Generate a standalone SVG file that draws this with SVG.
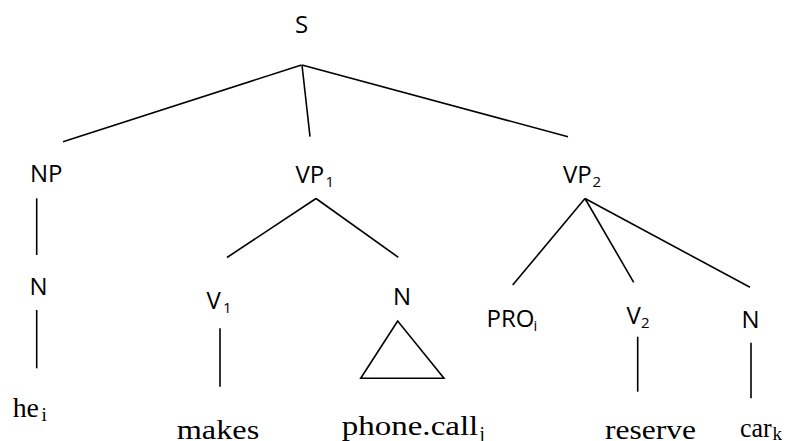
<svg xmlns="http://www.w3.org/2000/svg" width="792" height="441" viewBox="0 0 792 441">
  <style>
    .cat { font-family: "Open Sans", "Liberation Sans", sans-serif; font-size: 24px; fill: #000; }
    .cat-sub { font-family: "Open Sans", "Liberation Sans", sans-serif; font-size: 15px; fill: #000; }
    .word { font-family: "Liberation Serif", "Times New Roman", serif; font-size: 28px; fill: #000; }
    .word-sub { font-family: "Liberation Serif", "Times New Roman", serif; font-size: 19px; fill: #000; }
    .edge { stroke: #000; stroke-width: 1.6; fill: none; }
  </style>
  <rect width="792" height="441" fill="#fff"/>

  <!-- tree branches -->
  <g id="connectors">
    <line class="edge" x1="301.5" y1="65" x2="63" y2="141.7"/>
    <line class="edge" x1="302" y1="65" x2="310" y2="136.7"/>
    <line class="edge" x1="302" y1="65" x2="568" y2="136.7"/>
    <line class="edge" x1="36.7" y1="198.3" x2="36.7" y2="255"/>
    <line class="edge" x1="36.7" y1="310" x2="36.7" y2="368.3"/>
    <line class="edge" x1="316" y1="198.5" x2="227" y2="257.5"/>
    <line class="edge" x1="316" y1="198.5" x2="398.3" y2="257.3"/>
    <line class="edge" x1="220" y1="328.3" x2="220" y2="386.7"/>
    <polygon class="edge" points="397.7,321 360.7,378.3 444,378.3"/>
    <line class="edge" x1="585" y1="198.5" x2="512.7" y2="285"/>
    <line class="edge" x1="585" y1="198.5" x2="633.7" y2="282.3"/>
    <line class="edge" x1="585" y1="198.5" x2="750" y2="287.3"/>
    <line class="edge" x1="637.7" y1="336.7" x2="637.7" y2="391.7"/>
    <line class="edge" x1="751" y1="342.7" x2="751" y2="398.3"/>
  </g>

  <!-- category labels -->
  <g id="node-S"><text class="cat" x="295" y="33">S</text></g>
  <g id="node-NP"><text class="cat" x="30" y="182">NP</text></g>
  <g id="node-VP1">
    <text class="cat" x="295.5" y="183">VP</text>
    <text class="cat-sub" x="325.5" y="187">1</text>
  </g>
  <g id="node-VP2">
    <text class="cat" x="563" y="183">VP</text>
    <text class="cat-sub" x="592.5" y="187">2</text>
  </g>
  <g id="node-N-he"><text class="cat" x="29.5" y="295">N</text></g>
  <g id="node-V1">
    <text class="cat" x="206.5" y="309">V</text>
    <text class="cat-sub" x="223" y="313">1</text>
  </g>
  <g id="node-N-call"><text class="cat" x="393" y="305">N</text></g>
  <g id="node-PRO">
    <text class="cat" x="486.5" y="327">PRO</text>
    <text class="cat-sub" x="533.5" y="331">i</text>
  </g>
  <g id="node-V2">
    <text class="cat" x="626.5" y="324">V</text>
    <text class="cat-sub" x="641" y="328">2</text>
  </g>
  <g id="node-N-car"><text class="cat" x="741.5" y="328">N</text></g>

  <!-- terminal words -->
  <g id="leaf-he">
    <text class="word" x="12.7" y="417" textLength="26.3" lengthAdjust="spacingAndGlyphs">he</text>
    <text class="word-sub" x="41.5" y="421">i</text>
  </g>
  <g id="leaf-makes">
    <text class="word" x="176.7" y="438.5" textLength="82.6" lengthAdjust="spacingAndGlyphs">makes</text>
  </g>
  <g id="leaf-phone-call">
    <text class="word" x="341.7" y="435" textLength="136.6" lengthAdjust="spacingAndGlyphs">phone.call</text>
    <text class="word-sub" x="479.5" y="440">j</text>
  </g>
  <g id="leaf-reserve">
    <text class="word" x="605" y="438.5" textLength="91" lengthAdjust="spacingAndGlyphs">reserve</text>
  </g>
  <g id="leaf-car">
    <text class="word" x="740" y="437" textLength="31.7" lengthAdjust="spacingAndGlyphs">car</text>
    <text class="word-sub" x="772.5" y="440">k</text>
  </g>
</svg>
